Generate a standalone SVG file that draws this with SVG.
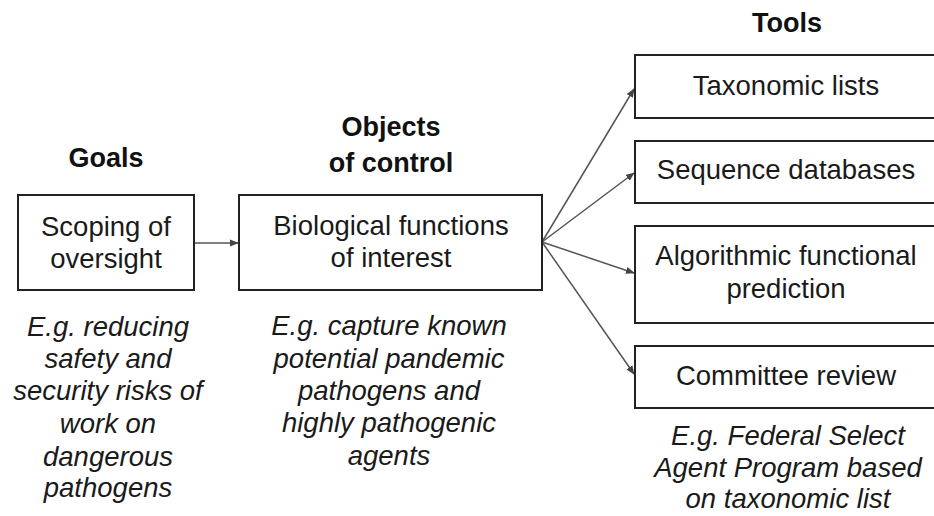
<svg xmlns="http://www.w3.org/2000/svg" width="934" height="516" viewBox="0 0 934 516">
<defs>
<style>
.box{fill:#fff;stroke:#222;stroke-width:2}
.t{font-family:"Liberation Sans",Arial,sans-serif;font-size:27.5px;fill:#1a1a1a;text-anchor:middle}
.h{font-family:"Liberation Sans",Arial,sans-serif;font-size:27px;font-weight:bold;fill:#111;text-anchor:middle}
.i{font-family:"Liberation Sans",Arial,sans-serif;font-size:27.5px;font-style:italic;fill:#1a1a1a;text-anchor:middle}
.c{stroke:#555;stroke-width:1.5;fill:none;marker-end:url(#ah)}
</style>
<marker id="ah" viewBox="0 0 10 10" refX="9" refY="5" markerWidth="9" markerHeight="9" markerUnits="userSpaceOnUse" orient="auto">
<path d="M0,1 L10,5 L0,9 Z" fill="#444"/>
</marker>
</defs>
<rect width="934" height="516" fill="#fff"/>
<g id="connectors">
<line class="c" x1="195" y1="243" x2="238" y2="243"/>
<line class="c" x1="542" y1="242" x2="634" y2="89"/>
<line class="c" x1="542" y1="242" x2="634" y2="173"/>
<line class="c" x1="542" y1="242" x2="634" y2="273"/>
<line class="c" x1="542" y1="242" x2="634" y2="374"/>
</g>
<g id="goals">
<text class="h" x="106" y="167">Goals</text>
<rect class="box" x="18" y="195" width="176" height="95"/>
<text class="t" x="106" y="236">Scoping of</text>
<text class="t" x="106" y="268">oversight</text>
<text class="i" x="108" y="336">E.g. reducing</text>
<text class="i" x="108" y="368">safety and</text>
<text class="i" x="108" y="400">security risks of</text>
<text class="i" x="108" y="433">work on</text>
<text class="i" x="108" y="466">dangerous</text>
<text class="i" x="108" y="497">pathogens</text>
</g>
<g id="objects">
<text class="h" x="391" y="136">Objects</text>
<text class="h" x="391" y="172">of control</text>
<rect class="box" x="239" y="195" width="303" height="95"/>
<text class="t" x="391" y="235">Biological functions</text>
<text class="t" x="391" y="267">of interest</text>
<text class="i" x="389" y="335">E.g. capture known</text>
<text class="i" x="389" y="368">potential pandemic</text>
<text class="i" x="389" y="400">pathogens and</text>
<text class="i" x="389" y="432">highly pathogenic</text>
<text class="i" x="389" y="465">agents</text>
</g>
<g id="tools">
<text class="h" x="787" y="32">Tools</text>
</g>
<g id="taxonomic">
<rect class="box" x="635" y="55" width="302" height="63"/>
<text class="t" x="786" y="95">Taxonomic lists</text>
</g>
<g id="sequence">
<rect class="box" x="635" y="141" width="302" height="62"/>
<text class="t" x="786" y="179">Sequence databases</text>
</g>
<g id="algorithmic">
<rect class="box" x="635" y="226" width="302" height="97"/>
<text class="t" x="786" y="265">Algorithmic functional</text>
<text class="t" x="786" y="298">prediction</text>
</g>
<g id="committee">
<rect class="box" x="635" y="346" width="302" height="62"/>
<text class="t" x="786" y="385">Committee review</text>
<text class="i" x="788" y="445">E.g. Federal Select</text>
<text class="i" x="788" y="477">Agent Program based</text>
<text class="i" x="788" y="508">on taxonomic list</text>
</g>
</svg>
